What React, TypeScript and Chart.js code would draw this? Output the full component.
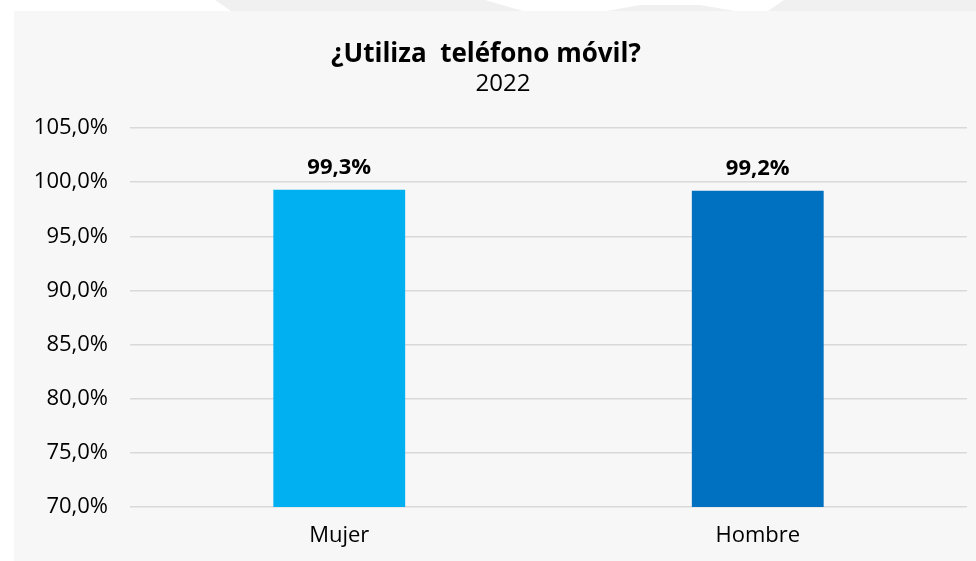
import React, { useEffect, useRef } from "react";
import { Chart, registerables } from "chart.js";

Chart.register(...registerables);

const categories = ["Mujer", "Hombre"];
const values = [99.3, 99.2];
const valueLabels = ["99,3%", "99,2%"];
const barColors = ["#00B0F0", "#0070C0"];
const yTicks = [70, 75, 80, 85, 90, 95, 100, 105];
const titleText = "¿Utiliza  teléfono móvil?";
const subtitleText = "2022";

const FONT = "'Open Sans', 'Noto Sans', sans-serif";

const fmtPct = (v: number) => v.toFixed(1).replace(".", ",") + "%";

const headerPlugin = {
  id: "header",
  afterDraw(chart: any) {
    const ctx = chart.ctx;
    ctx.save();
    ctx.fillStyle = "#000";
    ctx.textAlign = "center";
    ctx.textBaseline = "alphabetic";
    ctx.font = `bold 26px ${FONT}`;
    ctx.fillText(titleText, 472, 51);
    ctx.font = `24px ${FONT}`;
    ctx.fillText(subtitleText, 489, 80);
    ctx.restore();
  },
};

const valueLabelPlugin = {
  id: "valueLabels",
  afterDatasetsDraw(chart: any) {
    const ctx = chart.ctx;
    const meta = chart.getDatasetMeta(0);
    ctx.save();
    ctx.fillStyle = "#000";
    ctx.textAlign = "center";
    ctx.textBaseline = "alphabetic";
    ctx.font = `bold 22px ${FONT}`;
    meta.data.forEach((bar: any, i: number) => {
      ctx.fillText(valueLabels[i], bar.x, bar.y - 16);
    });
    ctx.restore();
  },
};

const whiteShape = (points: string) => (
  <div
    style={{
      position: "absolute",
      left: 0,
      top: 0,
      width: 976,
      height: 11,
      background: "#ffffff",
      clipPath: `polygon(${points})`,
    }}
  />
);

export default function App() {
  const ref = useRef<HTMLCanvasElement | null>(null);
  useEffect(() => {
    if (!ref.current) return;
    const chart = new Chart(ref.current, {
      type: "bar",
      data: {
        labels: categories,
        datasets: [
          {
            data: values,
            backgroundColor: barColors,
            borderWidth: 0,
            barPercentage: 0.315,
            categoryPercentage: 1,
          },
        ],
      },
      options: {
        animation: false,
        responsive: false,
        maintainAspectRatio: false,
        layout: { padding: { top: 117, right: 9, bottom: 12, left: 0 } },
        plugins: {
          legend: { display: false },
          tooltip: { enabled: false },
          title: { display: false },
        },
        scales: {
          x: {
            afterFit: (s: any) => {
              s.height = 42;
            },
            grid: { display: false, drawTicks: false },
            border: { display: false },
            ticks: {
              color: "#000",
              padding: 16,
              font: { family: FONT, size: 22 },
            },
          },
          y: {
            min: 70,
            max: 105,
            afterFit: (s: any) => {
              s.width = 116;
            },
            afterBuildTicks: (s: any) => {
              s.ticks = yTicks.map((v) => ({ value: v }));
            },
            grid: { color: "#d9d9d9", lineWidth: 1.5, drawTicks: false },
            border: { display: false },
            ticks: {
              color: "#000",
              padding: 22,
              font: { family: FONT, size: 22 },
              callback: (v: any) => fmtPct(Number(v)),
            },
          },
        },
      },
      plugins: [headerPlugin, valueLabelPlugin],
    });
    return () => chart.destroy();
  }, []);

  return (
    <div
      style={{
        position: "fixed",
        left: 0,
        top: 0,
        width: 976,
        height: 561,
        background: "#ffffff",
        overflow: "hidden",
      }}
    >
      <div
        style={{
          position: "absolute",
          left: 0,
          top: 0,
          width: 976,
          height: 11,
          background: "#f0f0f0",
        }}
      />
      {whiteShape("0px 0px, 215px 0px, 231px 11px, 0px 11px")}
      {whiteShape("485px 0px, 784px 0px, 768px 11px, 735px 11px, 700px 5px, 640px 5px, 607px 11px, 523px 11px")}
      <div
        style={{
          position: "absolute",
          left: 14,
          top: 11,
          width: 962,
          height: 550,
          background: "#f7f7f7",
        }}
      >
        <canvas ref={ref} width={962} height={550} style={{ display: "block" }} />
      </div>
    </div>
  );
}
